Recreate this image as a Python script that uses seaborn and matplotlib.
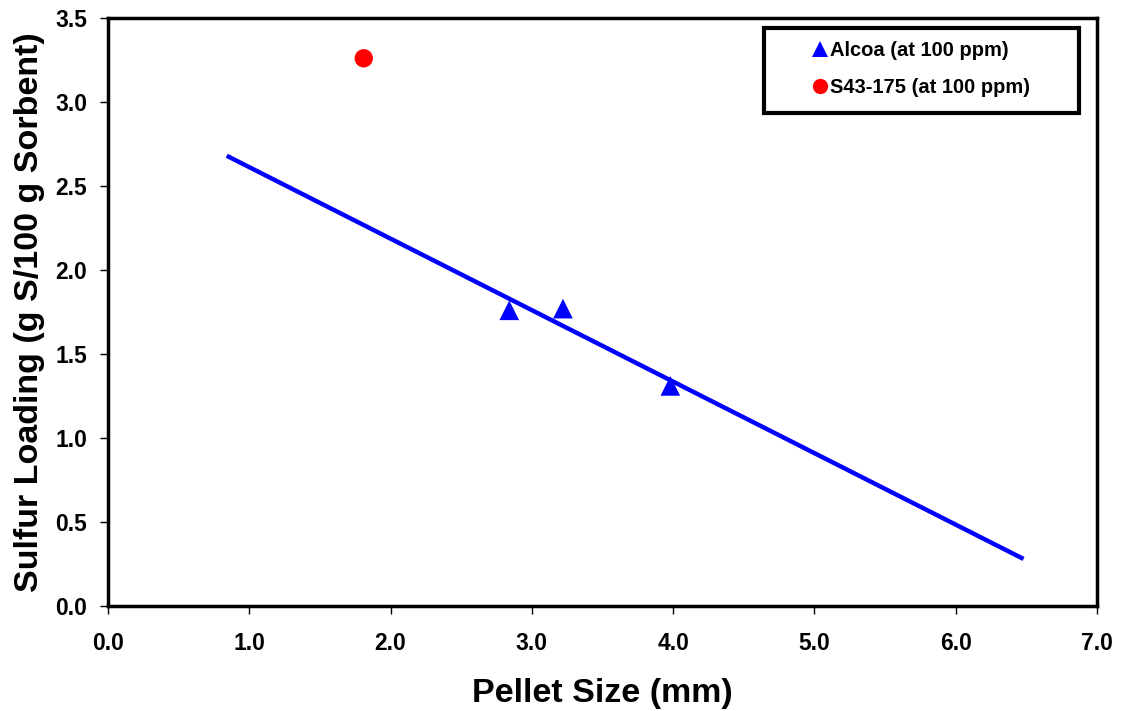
import matplotlib
matplotlib.use("Agg")
import matplotlib.pyplot as plt
from matplotlib.patches import Rectangle
from matplotlib.lines import Line2D
import seaborn as sns
import pandas as pd

# Measured sulfur loading vs. pellet size
alcoa_size = [2.84, 3.22, 3.98]
alcoa_loading = [1.76, 1.77, 1.31]
s43_size = [1.81]
s43_loading = [3.26]

# Linear trend through the Alcoa points
trend_size = [0.84, 6.48]
trend_loading = [2.68, 0.28]

x_ticks = [0.0, 1.0, 2.0, 3.0, 4.0, 5.0, 6.0, 7.0]
y_ticks = [0.0, 0.5, 1.0, 1.5, 2.0, 2.5, 3.0, 3.5]

sns.set_style("white")
plt.rcParams["font.family"] = ["Liberation Sans", "DejaVu Sans"]
plt.rcParams["font.weight"] = "bold"
plt.rcParams["text.color"] = "black"
plt.rcParams["axes.labelcolor"] = "black"
plt.rcParams["xtick.color"] = "black"
plt.rcParams["ytick.color"] = "black"

fig = plt.figure(figsize=(11.22, 7.11), dpi=100)
ax = fig.add_axes([0.0963, 0.1477, 0.8814, 0.8270])

alcoa = pd.DataFrame({"size": alcoa_size, "loading": alcoa_loading})
s43 = pd.DataFrame({"size": s43_size, "loading": s43_loading})
trend = pd.DataFrame({"size": trend_size, "loading": trend_loading})

sns.lineplot(data=trend, x="size", y="loading", color="#0000FF", linewidth=3.2,
             ax=ax, legend=False, solid_capstyle="butt")
sns.scatterplot(data=alcoa, x="size", y="loading", marker="^", s=200,
                color="#0000FF", edgecolor="none", ax=ax, legend=False, zorder=3)
sns.scatterplot(data=s43, x="size", y="loading", marker="o", s=175,
                color="#FF0000", edgecolor="none", ax=ax, legend=False, zorder=3)

ax.set_xlim(0, 7)
ax.set_ylim(0, 3.5)
ax.set_xticks(x_ticks)
ax.set_yticks(y_ticks)
ax.set_xticklabels([f"{v:.1f}" for v in x_ticks])
ax.set_yticklabels([f"{v:.1f}" for v in y_ticks])
ax.tick_params(axis="x", bottom=True, direction="out", length=6, width=1, pad=13,
               color="black", labelcolor="black", labelsize=16.5)
ax.tick_params(axis="y", left=True, direction="out", length=6, width=1, pad=9,
               color="black", labelcolor="black", labelsize=16.5)
for lbl in ax.get_xticklabels() + ax.get_yticklabels():
    lbl.set_fontweight("bold")

ax.set_xlabel("Pellet Size (mm)", fontsize=24.5, fontweight="bold", labelpad=16,
              color="black")
ax.set_ylabel("Sulfur Loading (g S/100 g Sorbent)", fontsize=24.5, fontweight="bold",
              labelpad=7, color="black")

for side in ["left", "right", "top", "bottom"]:
    ax.spines[side].set_visible(True)
    ax.spines[side].set_color("black")
    ax.spines[side].set_linewidth(2.5)

# Legend with a heavy square frame
handles = [
    Line2D([], [], marker="^", linestyle="none", color="#0000FF", markersize=11,
           markeredgewidth=0),
    Line2D([], [], marker="o", linestyle="none", color="#FF0000", markersize=11,
           markeredgewidth=0),
]
labels = ["Alcoa (at 100 ppm)", "S43-175 (at 100 ppm)"]
ax.add_patch(Rectangle((0.663, 0.838), 0.319, 0.145, transform=ax.transAxes,
                       facecolor="white", edgecolor="black", linewidth=3, zorder=4))
leg = ax.legend(handles, labels, loc="center", bbox_to_anchor=(0.8226, 0.9135),
                frameon=False, handlelength=0.7, handletextpad=0.15,
                labelspacing=0.9, prop={"weight": "bold", "size": 14.5})
for t in leg.get_texts():
    t.set_color("black")
leg.set_zorder(5)

fig.savefig("out.png", dpi=100)
